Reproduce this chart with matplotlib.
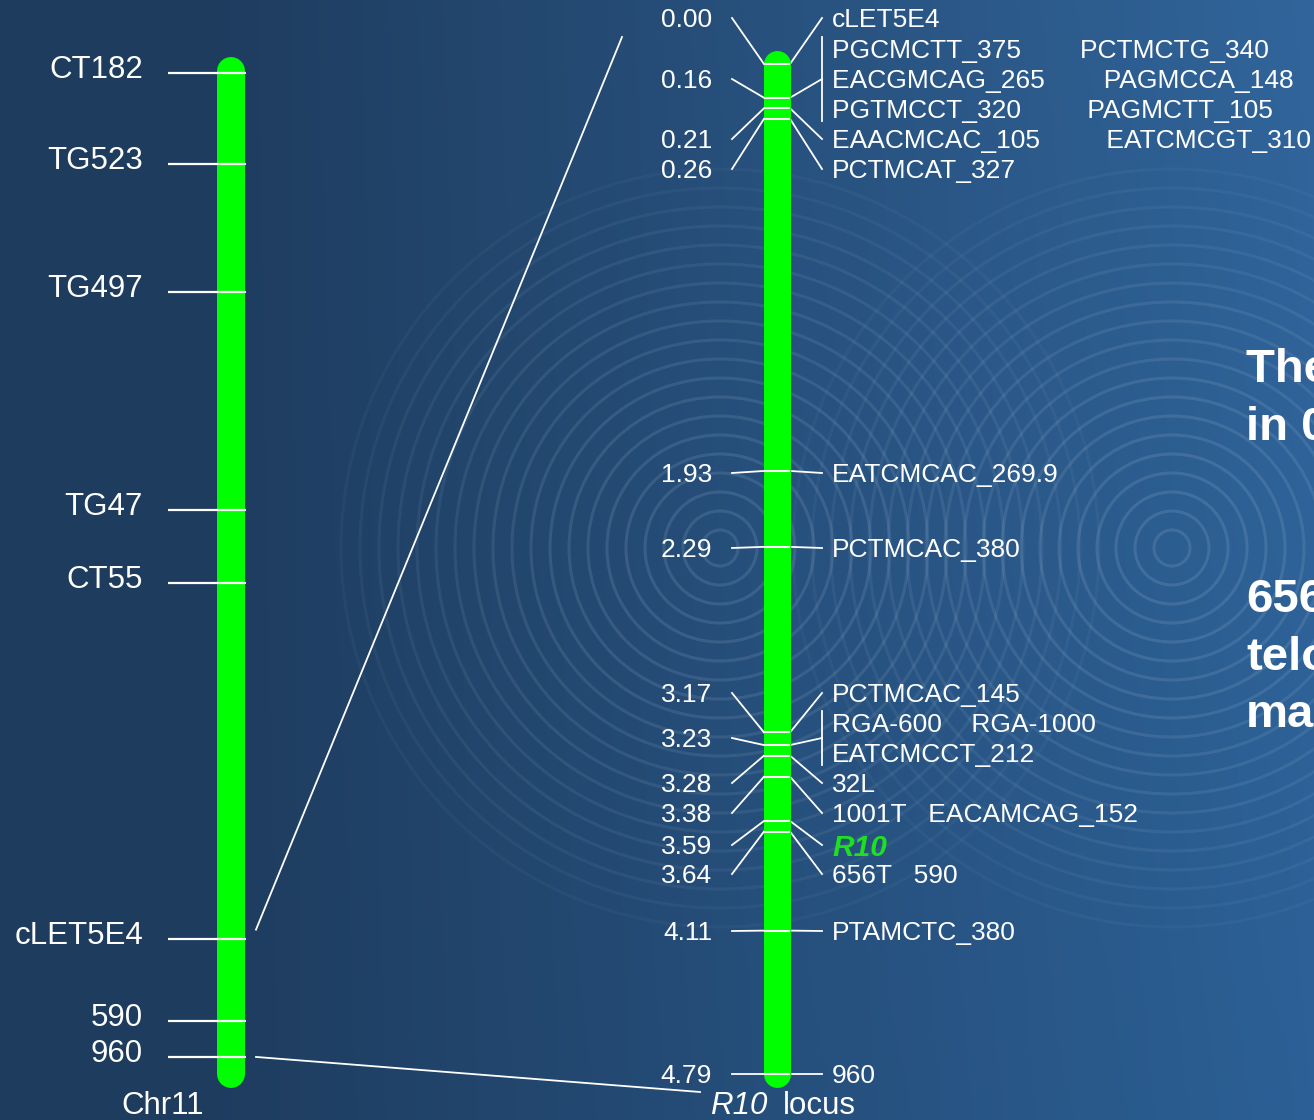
import numpy as np
import matplotlib.pyplot as plt
from matplotlib.patches import Circle

plt.rcParams['font.family'] = ['Liberation Sans', 'DejaVu Sans']

# Chr11 overview: marker names and relative position along the chromosome (0-100)
chr11_markers = ["CT182", "TG523", "TG497", "TG47", "CT55", "cLET5E4", "590", "960"]
chr11_pos = [0.2, 9.3, 22.0, 43.8, 51.0, 86.5, 94.7, 98.3]

# R10 locus: positions (cM) and marker names at each position
r10_cm = [0.00, 0.16, 0.21, 0.26, 1.93, 2.29, 3.17, 3.23, 3.28, 3.38, 3.59, 3.64, 4.11, 4.79]
r10_labels = ["0.00", "0.16", "0.21", "0.26", "1.93", "2.29", "3.17", "3.23",
              "3.28", "3.38", "3.59", "3.64", "4.11", "4.79"]
r10_names = [
    ["cLET5E4"],
    ["PGCMCTT_375        PCTMCTG_340",
     "EACGMCAG_265        PAGMCCA_148",
     "PGTMCCT_320         PAGMCTT_105"],
    ["EAACMCAC_105         EATCMCGT_310"],
    ["PCTMCAT_327"],
    ["EATCMCAC_269.9"],
    ["PCTMCAC_380"],
    ["PCTMCAC_145"],
    ["RGA-600    RGA-1000", "EATCMCCT_212"],
    ["32L"],
    ["1001T   EACAMCAG_152"],
    ["R10"],
    ["656T   590"],
    ["PTAMCTC_380"],
    ["960"],
]
side_text = ["The R10 locus", "in 0.5 cM", "", "", "656T", "telomeric", "marker"]

# layout (pixels)
W, H = 1314, 1120
label_rows = [18, 79, 139, 169, 473, 548, 693, 738, 783, 813, 845, 874, 931, 1074]
row_h = 30

fig = plt.figure(figsize=(W / 100, H / 100), dpi=100)
bg = fig.add_axes([0, 0, 1, 1])
bg.set_xlim(0, W)
bg.set_ylim(H, 0)
bg.axis('off')

# background gradient
xx = np.linspace(0, W, W)
yy = np.linspace(0, H, H)
t = np.clip((xx - 200) / (W - 200), 0, 1)[None, :]
v = (1 - yy / H)[:, None]
c0 = np.array([30, 60, 94]) / 255
c1 = np.array([44, 96, 150]) / 255
img = c0[None, None, :] + (c1 - c0)[None, None, :] * t[..., None]
img = img + 0.02 * (v * t)[..., None]
bg.imshow(np.clip(img, 0, 1), extent=(0, W, H, 0), aspect='auto', zorder=0)

# ripple rings
for cx, cy in [(720, 548), (1172, 548)]:
    for r in np.arange(18, 390, 19):
        a = 0.03 + 0.10 * (1 - (r / 400) ** 2)
        bg.add_patch(Circle((cx, cy), r, fill=False, ec='#cfe0f5', lw=2.2, alpha=a, zorder=1))

# left chromosome (Chr11)
axl = fig.add_axes([0, 0, 1, 1], sharex=bg)
axl.patch.set_visible(False)
axl.axis('off')
top_px, bot_px = 71, 1074
k_l = (bot_px - top_px) / 100
axl.set_ylim((H - top_px) / k_l, -top_px / k_l)
axl.plot([231, 231], [0, 100], color='#00ff00', lw=28 * 0.72, solid_capstyle='round', zorder=3)
axl.hlines(chr11_pos, 168, 246, color='white', lw=1.6, zorder=4)

# right chromosome (R10 locus)
axr = fig.add_axes([0, 0, 1, 1], sharex=bg)
axr.patch.set_visible(False)
axr.axis('off')
r0_px, r1_px = 64, 1074
k_r = (r1_px - r0_px) / max(r10_cm)
axr.set_ylim((H - r0_px) / k_r, -r0_px / k_r)
axr.plot([777, 777], [0, max(r10_cm)], color='#00ff00', lw=27 * 0.72, solid_capstyle='round', zorder=3)
axr.hlines(r10_cm, 764, 790, color='white', lw=1.5, zorder=4)


def to_px(ax, x, y):
    return bg.transData.inverted().transform(ax.transData.transform((x, y)))


# chr11 labels
for name, p in zip(chr11_markers, chr11_pos):
    _, y = to_px(axl, 231, p)
    bg.text(143, y - 3, name, ha='right', va='center', color='white', fontsize=22.5, zorder=5)

# R10 labels and connectors
for cm, lab, names, ly in zip(r10_cm, r10_labels, r10_names, label_rows):
    _, my = to_px(axr, 777, cm)
    bg.plot([732, 764], [ly, my], color='white', lw=1.3, zorder=4)
    bg.plot([790, 822], [my, ly], color='white', lw=1.3, zorder=4)
    bg.text(712, ly + 2, lab, ha='right', va='center', color='white', fontsize=19, zorder=5)
    n = len(names)
    if n > 1:
        half = row_h * n / 2 - 3
        bg.plot([822, 822], [ly - half, ly + half], color='white', lw=1.3, zorder=4)
    for j, nm in enumerate(names):
        y = ly + (j - (n - 1) / 2) * row_h + 2
        if nm == "R10":
            bg.text(832, y + 1, nm, ha='left', va='center', color='#1ee01e', fontsize=21.5,
                    fontweight='bold', fontstyle='italic', zorder=5)
        else:
            bg.text(832, y, nm, ha='left', va='center', color='white', fontsize=19, zorder=5)

# zoom connector lines from Chr11 to the R10 locus map
_, y_top = to_px(axl, 231, chr11_pos[5])
_, y_bot = to_px(axl, 231, chr11_pos[7])
bg.plot([256, 622], [y_top - 9, 37], color='white', lw=1.3, zorder=4)
bg.plot([256, 700], [y_bot, 1092], color='white', lw=1.3, zorder=4)

# titles under the chromosomes
bg.text(163, 1106, "Chr11", ha='center', va='center', color='white', fontsize=22.5, zorder=5)
bg.text(767, 1106, "R10", ha='right', va='center', color='white', fontsize=22.5,
        fontstyle='italic', zorder=5)
bg.text(783, 1106, "locus", ha='left', va='center', color='white', fontsize=22.5, zorder=5)

# side note (cut off at the right edge, as in the slide)
for i, s in enumerate(side_text):
    bg.text(1246, 370 + i * 57.5, s, ha='left', va='center', color='white', fontsize=34,
            fontweight='bold', zorder=5)

fig.savefig('out.png', dpi=100)
